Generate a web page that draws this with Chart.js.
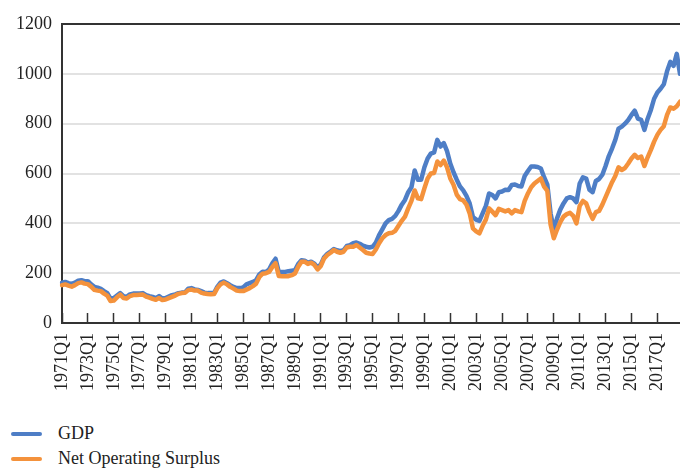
<!DOCTYPE html>
<html>
<head>
<meta charset="utf-8">
<script src="https://cdn.jsdelivr.net/npm/chart.js@4/dist/chart.umd.min.js"></script>
<style>
  html, body { margin: 0; padding: 0; background: #fff; overflow: hidden; }
  #wrap { position: relative; width: 680px; height: 470px; }
  #c { position: absolute; left: 0; top: 0; }
  .legend { position: absolute; left: 0; top: 421px; font-family: "Liberation Serif", "DejaVu Serif", serif; font-size: 18px; color: #222; }
  .item { position: relative; height: 25px; line-height: 25px; }
  .swatch { position: absolute; left: 11px; top: 11px; width: 31px; height: 4px; border-radius: 2px; }
  .lbl { position: absolute; left: 58px; top: 0; white-space: nowrap; }
</style>
</head>
<body>
<div id="wrap">
  <canvas id="c" width="680" height="406"></canvas>
  <div class="legend" id="legend"></div>
</div>
<script>
// ---- Data ----
const startYear = 1971;
const endYear = 2018;
const quarters = [];
for (let y = startYear; y <= endYear; y++) {
  for (let q = 1; q <= 4; q++) quarters.push(y + 'Q' + q);
}
const labelEvery = 8; // tick label every 2 years (x-Q1)

const seriesNames = ['GDP', 'Net Operating Surplus'];
const seriesColors = ['#4e7ec6', '#f4923c'];

const gdp = [
  // 1971-1974
  162, 165, 160, 157, 162, 170, 172, 168, 168, 155, 145, 142, 137, 128, 120, 98,
  // 1975-1978
  100, 110, 120, 108, 105, 115, 118, 118, 118, 120, 112, 108, 105, 100, 108, 98,
  // 1979-1982
  100, 106, 112, 115, 120, 122, 123, 138, 140, 135, 133, 128, 122, 120, 120, 120,
  // 1983-1986
  145, 162, 167, 160, 152, 145, 140, 140, 143, 155, 160, 165, 172, 195, 206, 205,
  // 1987-1990
  215, 240, 258, 205, 205, 205, 208, 210, 212, 237, 252, 250, 242, 246, 238, 222,
  // 1991-1994
  235, 264, 278, 287, 297, 292, 288, 292, 309, 312, 320, 323, 318, 310, 306, 303,
  // 1995-1998
  306, 323, 353, 376, 400, 413, 418, 430, 450, 475, 494, 525, 545, 612, 575, 575,
  // 1999-2002
  625, 660, 680, 685, 735, 708, 722, 690, 640, 605, 575, 548, 532, 510, 480, 425,
  // 2003-2006
  415, 410, 440, 470, 520, 514, 500, 525, 528, 535, 534, 554, 556, 550, 548, 590,
  // 2007-2010
  610, 628, 628, 626, 620, 585, 555, 440, 375, 420, 455, 480, 500, 505, 500, 485,
  // 2011-2014
  560, 585, 580, 535, 525, 570, 578, 595, 630, 670, 700, 735, 780, 788, 800, 815,
  // 2015-2018
  835, 852, 820, 815, 775, 820, 855, 900, 925, 940, 958, 1010, 1048, 1032, 1080, 1000
];

const nos = [
  // 1971-1974
  152, 155, 150, 146, 152, 160, 163, 158, 156, 146, 133, 130, 128, 118, 110, 88,
  // 1975-1978
  90, 103, 114, 100, 98, 108, 112, 112, 113, 114, 106, 102, 97, 93, 100, 92,
  // 1979-1982
  94, 100, 105, 110, 117, 120, 121, 132, 134, 130, 130, 122, 118, 116, 115, 116,
  // 1983-1986
  140, 155, 162, 155, 145, 138, 130, 128, 128, 134, 140, 148, 158, 185, 198, 200,
  // 1987-1990
  205, 225, 240, 189, 188, 188, 188, 192, 199, 226, 246, 246, 237, 242, 233, 215,
  // 1991-1994
  229, 259, 273, 282, 293, 286, 282, 286, 303, 306, 306, 313, 303, 293, 282, 279,
  // 1995-1998
  277, 295, 320, 340, 353, 360, 362, 370, 390, 410, 427, 460, 490, 532, 500, 497,
  // 1999-2002
  540, 580, 600, 602, 648, 634, 652, 625, 580, 555, 515, 497, 492, 475, 440, 380,
  // 2003-2006
  368, 360, 390, 415, 460, 447, 433, 458, 453, 448, 453, 440, 453, 448, 445, 490,
  // 2007-2010
  520, 545, 560, 570, 580, 547, 530, 395, 340, 375, 405, 427, 437, 442, 430, 400,
  // 2011-2014
  470, 490, 480, 445, 418, 445, 450, 475, 505, 535, 565, 590, 625, 614, 622, 640,
  // 2015-2018
  660, 675, 662, 668, 630, 665, 695, 728, 755, 775, 790, 835, 865, 860, 870, 888
];

const yTicks = [0, 200, 400, 600, 800, 1000, 1200];

// ---- Chart ----
const FONT = '"Liberation Serif", "DejaVu Serif", serif';
const TEXT = '#222';
const AXIS = '#333';

new Chart(document.getElementById('c'), {
  type: 'line',
  data: {
    labels: quarters,
    datasets: [
      { label: seriesNames[0], data: gdp, borderColor: seriesColors[0], backgroundColor: seriesColors[0],
        borderWidth: 4.5, pointRadius: 0, tension: 0, borderJoinStyle: 'round', borderCapStyle: 'round', order: 1 },
      { label: seriesNames[1], data: nos, borderColor: seriesColors[1], backgroundColor: seriesColors[1],
        borderWidth: 4.5, pointRadius: 0, tension: 0, borderJoinStyle: 'round', borderCapStyle: 'round', order: 0 }
    ]
  },
  options: {
    responsive: false,
    animation: false,
    devicePixelRatio: 1,
    layout: { padding: { top: 24, right: 0, left: 0, bottom: 0 } },
    plugins: { legend: { display: false }, tooltip: { enabled: false } },
    scales: {
      x: {
        type: 'category',
        offset: false,
        grid: {
          drawOnChartArea: false,
          drawTicks: true,
          tickLength: -10,
          tickWidth: 1.5,
          tickColor: (ctx) => (ctx.index % labelEvery === 0 ? AXIS : 'rgba(0,0,0,0)'),
          color: 'rgba(0,0,0,0)'
        },
        border: { display: true, color: AXIS, width: 2 },
        ticks: {
          autoSkip: false,
          minRotation: 90,
          maxRotation: 90,
          padding: 20,
          color: TEXT,
          font: { family: FONT, size: 18 },
          callback: function (val, idx) { return idx % labelEvery === 0 ? this.getLabelForValue(val) : ''; }
        },
        afterFit: (s) => { s.height = 83; s.paddingLeft = 0; s.paddingRight = 0; }
      },
      y: {
        min: yTicks[0],
        max: yTicks[yTicks.length - 1],
        afterBuildTicks: (s) => { s.ticks = yTicks.map(v => ({ value: v })); },
        grid: {
          drawTicks: false,
          color: (ctx) => (ctx.tick && ctx.tick.value === 1200 ? AXIS : '#e2e2e2'),
          lineWidth: 2
        },
        border: { display: true, color: AXIS, width: 2 },
        ticks: {
          padding: 10,
          color: TEXT,
          font: { family: FONT, size: 18 },
          callback: (v) => String(v)
        },
        afterFit: (s) => { s.width = 62; }
      }
    }
  }
});

// ---- Legend (HTML text) ----
const leg = document.getElementById('legend');
seriesNames.forEach((n, i) => {
  const it = document.createElement('div');
  it.className = 'item';
  const sw = document.createElement('span');
  sw.className = 'swatch';
  sw.style.background = seriesColors[i];
  const tx = document.createElement('span');
  tx.className = 'lbl';
  tx.textContent = n;
  it.appendChild(sw); it.appendChild(tx);
  leg.appendChild(it);
});
</script>
</body>
</html>
